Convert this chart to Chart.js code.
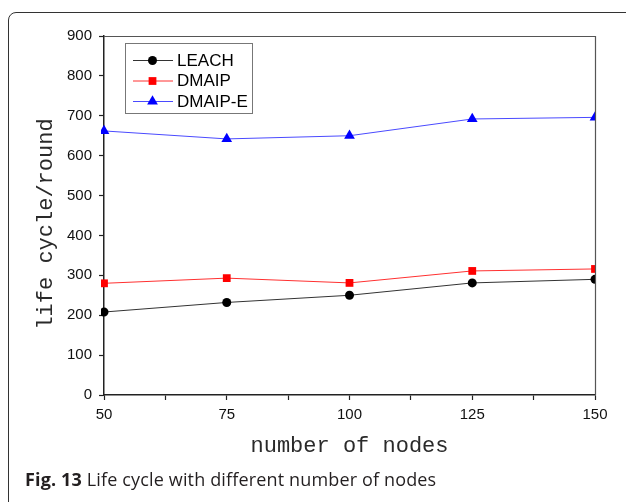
<!DOCTYPE html>
<html>
<head>
<meta charset="utf-8">
<script src="https://cdn.jsdelivr.net/npm/chart.js@4"></script>
<style>
  body { margin: 0; background: #fff; }
  #wrap { position: relative; width: 626px; height: 502px; overflow: hidden; }
  #frame { position: absolute; left: 8px; top: 12px; width: 700px; height: 600px;
           border: 1.3px solid #333; border-radius: 8px; }
  #chart { position: absolute; left: 0; top: 0; }
  #caption { position: absolute; left: 25px; top: 469px; font: 18px/20px "Open Sans", sans-serif;
             color: #231f20; white-space: nowrap; letter-spacing: 0.15px; }
  #caption b { font-weight: 700; }
</style>
</head>
<body>
<div id="wrap">
  <div id="frame"></div>
  <canvas id="chart" width="626" height="502"></canvas>
  <div id="caption"><b>Fig. 13</b> Life cycle with different number of nodes</div>
</div>
<script>
const nodes = [50, 75, 100, 125, 150];
const leach = [208, 232, 250, 281, 290];
const dmaip = [280, 293, 281, 311, 316];
const dmaipE = [662, 642, 650, 692, 696];

const seriesNames = ["LEACH", "DMAIP", "DMAIP-E"];
const xTitle = "number of nodes";
const yTitle = "life cycle/round";
const lineColors = ["#333333", "#ff3030", "#4a4aff"];
const markColors = ["#000000", "#ff0000", "#0000ff"];
const markStyles = ["circle", "rect", "triangle"];
const markRadius = [4.5, 5.5, 6.2];

function pts(vals) {
  return vals.map((v, i) => ({ x: nodes[i], y: v }));
}

const datasets = [leach, dmaip, dmaipE].map((vals, i) => ({
  label: seriesNames[i],
  data: pts(vals),
  borderColor: lineColors[i],
  borderWidth: 1,
  backgroundColor: markColors[i],
  pointBackgroundColor: markColors[i],
  pointBorderColor: markColors[i],
  pointBorderWidth: 0,
  pointStyle: markStyles[i],
  pointRadius: markRadius[i],
  tension: 0,
  clip: { left: 3, right: 0, top: false, bottom: false }
}));

// plot frame (top/right), axis titles and the boxed legend inside the plot
const framePlugin = {
  id: "frame",
  afterDatasetsDraw(chart) {
    const { ctx, chartArea: a } = chart;
    ctx.save();
    ctx.strokeStyle = "#555";
    ctx.lineWidth = 1.2;
    ctx.beginPath();
    ctx.moveTo(a.left, a.top + 0.5);
    ctx.lineTo(a.right + 0.5, a.top + 0.5);
    ctx.lineTo(a.right + 0.5, a.bottom);
    ctx.stroke();

    // axis titles
    ctx.fillStyle = "#2a2a2a";
    ctx.font = "22px 'Liberation Mono', monospace";
    ctx.textAlign = "center";
    ctx.textBaseline = "alphabetic";
    ctx.fillText(xTitle, (a.left + a.right) / 2, 452);
    ctx.save();
    ctx.translate(52, 224);
    ctx.rotate(-Math.PI / 2);
    ctx.fillText(yTitle, 0, 0);
    ctx.restore();

    // legend
    const bx = 125.5, by = 43.5, bw = 127, bh = 70;
    ctx.fillStyle = "#fff";
    ctx.fillRect(bx, by, bw, bh);
    ctx.strokeStyle = "#777";
    ctx.lineWidth = 1;
    ctx.strokeRect(bx, by, bw, bh);
    const rows = [60, 80.5, 101];
    ctx.font = "17px 'Liberation Sans', Arial, sans-serif";
    ctx.textAlign = "left";
    ctx.textBaseline = "middle";
    seriesNames.forEach((name, i) => {
      const y = rows[i];
      ctx.strokeStyle = lineColors[i];
      ctx.lineWidth = 1;
      ctx.beginPath();
      ctx.moveTo(133, y + 0.5);
      ctx.lineTo(173, y + 0.5);
      ctx.stroke();
      ctx.fillStyle = markColors[i];
      ctx.strokeStyle = markColors[i];
      Chart.helpers.drawPoint(ctx, {
        pointStyle: markStyles[i], radius: markRadius[i], rotation: 0, borderWidth: 0
      }, 152.5, y + 0.5);
      ctx.fillStyle = "#000";
      ctx.fillText(name, 177, y + 1);
    });
    ctx.restore();
  }
};

const tickFont = { family: "'Liberation Sans', Arial, sans-serif", size: 15 };

new Chart(document.getElementById("chart"), {
  type: "line",
  data: { datasets },
  options: {
    responsive: false,
    animation: false,
    devicePixelRatio: 1,
    layout: { padding: { left: 0, top: 36, right: 31, bottom: 44 } },
    plugins: { legend: { display: false }, tooltip: { enabled: false } },
    scales: {
      x: {
        type: "linear",
        min: 50, max: 150,
        afterFit: (s) => { s.height = 63; },
        border: { color: "#222", width: 1.5 },
        grid: { drawOnChartArea: false, tickLength: 5, tickColor: "#222", tickWidth: 1.2 },
        ticks: {
          stepSize: 12.5,
          font: tickFont, color: "#111", padding: 6,
          callback: (v) => (v % 25 === 0 ? String(v) : "")
        }
      },
      y: {
        min: 0, max: 900,
        afterFit: (s) => { s.width = 104; },
        border: { color: "#222", width: 1.5 },
        grid: { drawOnChartArea: false, tickLength: 5, tickColor: "#222", tickWidth: 1.2 },
        ticks: {
          stepSize: 50,
          font: tickFont, color: "#111", padding: 7,
          callback: (v) => (v % 100 === 0 ? String(v) : "")
        }
      }
    }
  },
  plugins: [framePlugin]
});
</script>
</body>
</html>
